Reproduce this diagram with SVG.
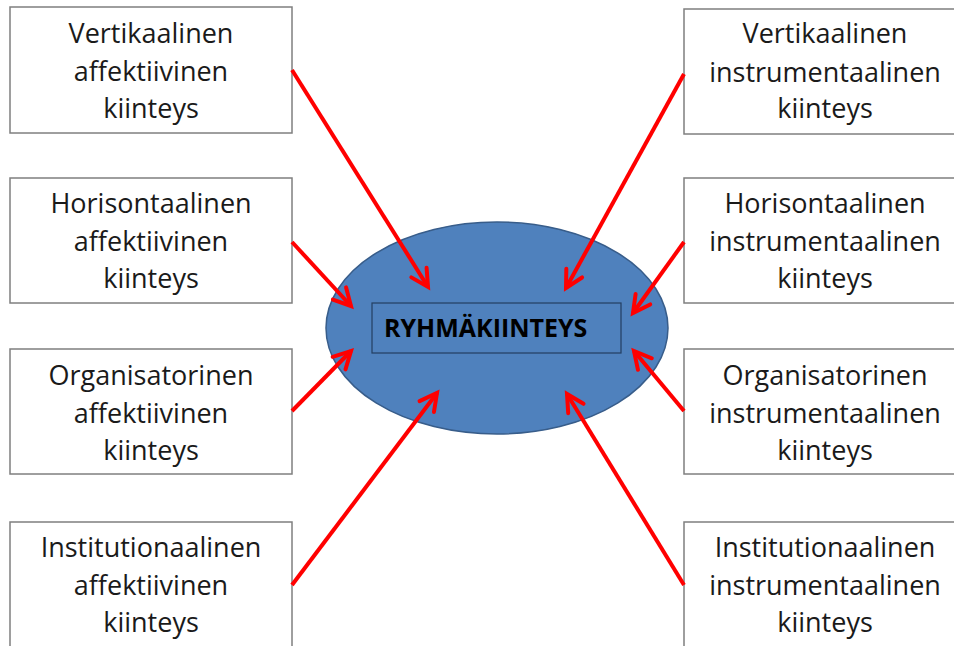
<svg xmlns="http://www.w3.org/2000/svg" width="954" height="646" viewBox="0 0 954 646">
<style>
.box{fill:#fff;stroke:#7f7f7f;stroke-width:1.5}
.t{font-family:"Open Sans","Liberation Sans",sans-serif;font-size:27px;fill:#1a1a1a;text-anchor:middle}
.c{stroke:#ff0000;stroke-width:4;fill:none;marker-end:url(#ah)}
</style>
<defs>
<marker id="ah" markerUnits="userSpaceOnUse" markerWidth="40" markerHeight="40" viewBox="-20 -20 40 40" refX="0" refY="0" orient="auto" overflow="visible">
<path d="M -17 -9 L 0 0 L -17 9" fill="none" stroke="#ff0000" stroke-width="4" stroke-linecap="round" stroke-linejoin="miter"/>
</marker>
</defs>
<rect width="954" height="646" fill="#fff"/>
<g id="center">
<ellipse cx="497" cy="328" rx="171" ry="106" fill="#4f81bd" stroke="#385d8a" stroke-width="1.5"/>
<rect x="372" y="303" width="249" height="50" fill="none" stroke="#243f60" stroke-width="1.2"/>
<text x="384" y="337" font-family="'Open Sans','Liberation Sans',sans-serif" font-weight="bold" font-size="25" fill="#000">RYHMÄKIINTEYS</text>
</g>
<g id="l1"><rect class="box" x="10" y="7" width="282" height="126"/>
<text class="t"><tspan x="151" y="43">Vertikaalinen</tspan><tspan x="151" y="81">affektiivinen</tspan><tspan x="151" y="118">kiinteys</tspan></text></g>
<g id="l2"><rect class="box" x="10" y="178" width="282" height="125"/>
<text class="t"><tspan x="151" y="213">Horisontaalinen</tspan><tspan x="151" y="251">affektiivinen</tspan><tspan x="151" y="288">kiinteys</tspan></text></g>
<g id="l3"><rect class="box" x="10" y="349" width="282" height="125"/>
<text class="t"><tspan x="151" y="385">Organisatorinen</tspan><tspan x="151" y="423">affektiivinen</tspan><tspan x="151" y="460">kiinteys</tspan></text></g>
<g id="l4"><rect class="box" x="10" y="522" width="282" height="130"/>
<text class="t"><tspan x="151" y="557">Institutionaalinen</tspan><tspan x="151" y="595">affektiivinen</tspan><tspan x="151" y="632">kiinteys</tspan></text></g>
<g id="r1"><rect class="box" x="684" y="9" width="282" height="125"/>
<text class="t"><tspan x="825" y="43">Vertikaalinen</tspan><tspan x="825" y="82">instrumentaalinen</tspan><tspan x="825" y="118">kiinteys</tspan></text></g>
<g id="r2"><rect class="box" x="684" y="178" width="282" height="125"/>
<text class="t"><tspan x="825" y="213">Horisontaalinen</tspan><tspan x="825" y="251">instrumentaalinen</tspan><tspan x="825" y="288">kiinteys</tspan></text></g>
<g id="r3"><rect class="box" x="684" y="349" width="282" height="125"/>
<text class="t"><tspan x="825" y="385">Organisatorinen</tspan><tspan x="825" y="423">instrumentaalinen</tspan><tspan x="825" y="460">kiinteys</tspan></text></g>
<g id="r4"><rect class="box" x="684" y="522" width="282" height="130"/>
<text class="t"><tspan x="825" y="557">Institutionaalinen</tspan><tspan x="825" y="595">instrumentaalinen</tspan><tspan x="825" y="632">kiinteys</tspan></text></g>
<g id="connectors">
<line class="c" x1="292" y1="70" x2="428" y2="287"/>
<line class="c" x1="292" y1="242" x2="351" y2="306"/>
<line class="c" x1="292" y1="411" x2="351" y2="351"/>
<line class="c" x1="292" y1="585" x2="437" y2="393"/>
<line class="c" x1="684" y1="74" x2="566" y2="288"/>
<line class="c" x1="684" y1="242" x2="633" y2="313"/>
<line class="c" x1="684" y1="411" x2="634" y2="351"/>
<line class="c" x1="684" y1="585" x2="567" y2="394"/>
</g>
</svg>
